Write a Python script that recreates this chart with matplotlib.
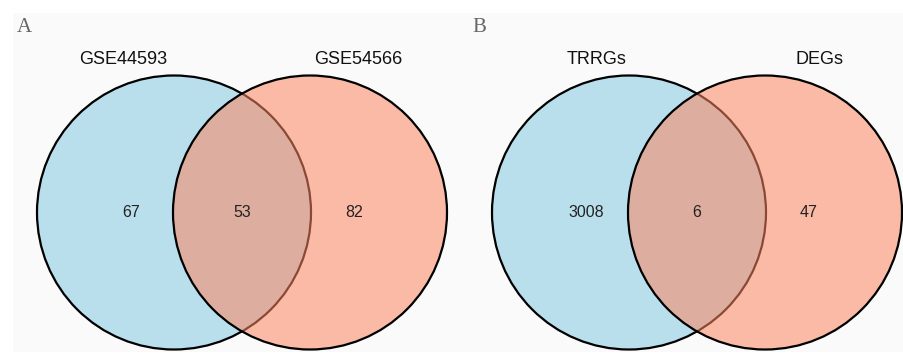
import matplotlib.pyplot as plt
from matplotlib.patches import Circle, Rectangle

# two-set venn panels: labels and region counts (only, shared, only)
panels = ['A', 'B']
set_names_a = ['GSE44593', 'GSE54566']
set_names_b = ['TRRGs', 'DEGs']
counts_a = [67, 53, 82]
counts_b = [3008, 6, 47]

blue = '#b9dfec'
salmon = '#fc8761'

fig = plt.figure(figsize=(9.04, 3.56), dpi=100)
ax = fig.add_axes([0, 0, 1, 1])
ax.set_xlim(0, 904)
ax.set_ylim(356, 0)
ax.set_aspect('equal')
ax.axis('off')

# light grey panel background
ax.add_patch(Rectangle((13, 13), 891, 339, facecolor='#fafafa', edgecolor='none', zorder=0))

r = 137
panel_x = [174, 629]   # left circle centre for each panel
cy = 212.5
label_dx = [(-51, 48), (-32, 55)]
letter_x = [24, 479]

for i, (names, counts) in enumerate([(set_names_a, counts_a), (set_names_b, counts_b)]):
    x1 = panel_x[i]
    x2 = x1 + r - 1
    # left set
    ax.add_patch(Circle((x1, cy), r, facecolor=blue, edgecolor='black', lw=1.6, zorder=1))
    # right set, semi transparent so the overlap shows through
    ax.add_patch(Circle((x2, cy), r, facecolor=salmon, alpha=0.55, edgecolor='none', zorder=2))
    ax.add_patch(Circle((x2, cy), r, facecolor='none', edgecolor='black', lw=1.6, zorder=3))

    mid = (x1 + x2) / 2
    ax.text(x1 - 43, cy, str(counts[0]), ha='center', va='center', fontsize=11.5,
            family='Liberation Sans', color='#222222', zorder=4)
    ax.text(mid, cy, str(counts[1]), ha='center', va='center', fontsize=11.5,
            family='Liberation Sans', color='#222222', zorder=4)
    ax.text(x2 + 44, cy, str(counts[2]), ha='center', va='center', fontsize=11.5,
            family='Liberation Sans', color='#222222', zorder=4)

    ax.text(x1 + label_dx[i][0], 59, names[0], ha='center', va='center', fontsize=13,
            family='Liberation Sans', color='#111111')
    ax.text(x2 + label_dx[i][1], 59, names[1], ha='center', va='center', fontsize=13,
            family='Liberation Sans', color='#111111')

    ax.text(letter_x[i], 28, panels[i], ha='center', va='center', fontsize=15,
            family='Liberation Serif', color='#666666')

fig.savefig('out.png', dpi=100)
